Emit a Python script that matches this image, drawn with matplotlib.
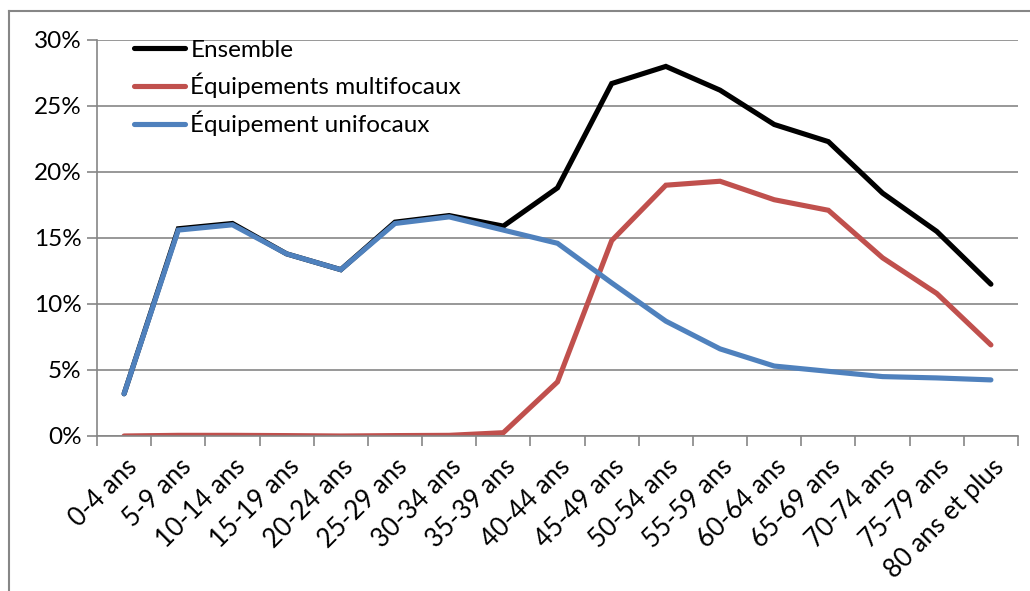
import numpy as np
import matplotlib
matplotlib.use("Agg")
import matplotlib.pyplot as plt
from matplotlib.lines import Line2D
from matplotlib.ticker import FixedLocator, PercentFormatter

plt.rcParams["font.family"] = ["Lato", "DejaVu Sans"]

categories = ["0-4 ans", "5-9 ans", "10-14 ans", "15-19 ans", "20-24 ans", "25-29 ans",
              "30-34 ans", "35-39 ans", "40-44 ans", "45-49 ans", "50-54 ans", "55-59 ans",
              "60-64 ans", "65-69 ans", "70-74 ans", "75-79 ans", "80 ans et plus"]
ensemble = [3.2, 15.7, 16.1, 13.8, 12.6, 16.2, 16.7, 15.9, 18.8, 26.7, 28.0, 26.2,
            23.6, 22.3, 18.4, 15.5, 11.5]
multifocaux = [0.0, 0.05, 0.05, 0.03, 0.0, 0.03, 0.05, 0.25, 4.1, 14.8, 19.0, 19.3,
               17.9, 17.1, 13.5, 10.8, 6.9]
unifocaux = [3.2, 15.6, 16.0, 13.8, 12.6, 16.1, 16.6, 15.6, 14.6, 11.6, 8.7, 6.6,
             5.3, 4.9, 4.5, 4.4, 4.25]
labels = ["Ensemble", "Équipements multifocaux", "Équipement unifocaux"]
colors = ["#000000", "#C0504D", "#4F81BD"]

W, H = 1030, 591
fig = plt.figure(figsize=(W / 100, H / 100), dpi=100)
ax = fig.add_axes([97 / W, 1 - 436 / H, (1018 - 97) / W, (436 - 40) / H])

grid_c = "#868686"
x = np.arange(len(categories))
for vals, lab, c in zip([ensemble, multifocaux, unifocaux], labels, colors):
    ax.plot(x, vals, color=c, lw=3.7, label=lab, solid_capstyle="round",
            solid_joinstyle="miter")

ax.set_xlim(-0.5, len(categories) - 0.5)
ax.set_ylim(0, 30)
ax.set_yticks(np.arange(0, 31, 5))
ax.yaxis.set_major_formatter(PercentFormatter(decimals=0))
ax.yaxis.grid(True, color=grid_c, lw=1.2)
ax.set_axisbelow(True)

ax.set_xticks(x)
ax.set_xticklabels(categories, rotation=45, ha="right", rotation_mode="anchor")
ax.xaxis.set_minor_locator(FixedLocator(np.arange(-0.5, len(categories), 1)))
ax.tick_params(axis="x", which="major", length=0, pad=13, labelsize=18.5)
ax.tick_params(axis="x", which="minor", length=7, width=1.2, color=grid_c)
ax.tick_params(axis="y", length=7, width=1.2, color=grid_c, labelsize=17.5, pad=4)

for s in ["top", "right"]:
    ax.spines[s].set_visible(False)
for s in ["left", "bottom"]:
    ax.spines[s].set_color(grid_c)
    ax.spines[s].set_linewidth(1.2)

leg = ax.legend(loc="upper left", bbox_to_anchor=(0.03, 1.025), frameon=False,
                fontsize=17.5, handlelength=2.1, handletextpad=0.2, labelspacing=0.5,
                borderaxespad=0)

# chart area border (top and left visible)
fig.add_artist(Line2D([9 / W, 9 / W], [0, 1 - 11 / H], color=grid_c, lw=1.5,
                      transform=fig.transFigure))
fig.add_artist(Line2D([9 / W, 1], [1 - 11 / H, 1 - 11 / H], color=grid_c, lw=1.5,
                      transform=fig.transFigure))

fig.savefig("out.png", dpi=100)
